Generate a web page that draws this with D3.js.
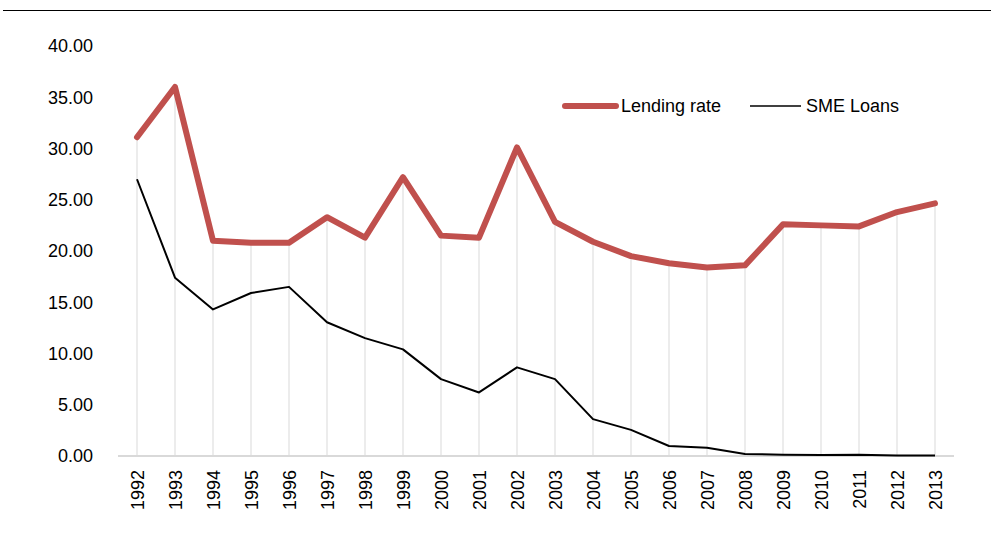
<!DOCTYPE html>
<html>
<head>
    <meta charset="utf-8">
    <style>
        body {
            margin: 0;
            background: white;
            font-family: 'Liberation Sans', Arial, sans-serif;
        }

        svg {
            display: block;
        }

        .tick-label {
            font-size: 18px;
            fill: #000;
        }

        .legend-label {
            font-size: 18px;
            fill: #000;
        }
    </style>
</head>

<body>
    <svg width="991" height="541"></svg>
</body>

<script src="https://d3js.org/d3.v7.min.js"></script>

<script>
    // values
    let years = ["1992", "1993", "1994", "1995", "1996", "1997", "1998", "1999", "2000", "2001", "2002",
        "2003", "2004", "2005", "2006", "2007", "2008", "2009", "2010", "2011", "2012", "2013"]

    let lendingRate = [31.1, 36.0, 21.0, 20.8, 20.8, 23.3, 21.3, 27.2, 21.5, 21.3, 30.1,
        22.85, 20.9, 19.5, 18.8, 18.4, 18.6, 22.6, 22.5, 22.4, 23.8, 24.65]

    let smeLoans = [27.0, 17.4, 14.3, 15.9, 16.5, 13.05, 11.5, 10.4, 7.5, 6.2, 8.65,
        7.5, 3.6, 2.55, 0.98, 0.8, 0.2, 0.12, 0.1, 0.12, 0.05, 0.05]

    let yTicks = [0, 5, 10, 15, 20, 25, 30, 35, 40]

    let svg = d3.select("svg")

    // frame line at the top
    svg.append("line")
        .attr("x1", 3)
        .attr("x2", 991)
        .attr("y1", 10.5)
        .attr("y2", 10.5)
        .style("stroke", "#000")
        .style("stroke-width", 1)

    let x = d3.scaleBand()
        .domain(years)
        .range([118, 954])

    let cx = d => x(d) + x.bandwidth() / 2

    let y = d3.scaleLinear()
        .domain([0, 40])
        .range([456, 46])

    // y labels
    svg.selectAll(".y-label")
        .data(yTicks)
        .join("text")
        .attr("class", "tick-label")
        .attr("x", 93)
        .attr("y", d => y(d))
        .attr("dy", "0.36em")
        .attr("text-anchor", "end")
        .text(d => d3.format(".2f")(d))

    // drop lines from the top series to the axis
    svg.selectAll(".drop")
        .data(years)
        .join("line")
        .attr("x1", d => cx(d))
        .attr("x2", d => cx(d))
        .attr("y1", (d, i) => y(Math.max(lendingRate[i], smeLoans[i])))
        .attr("y2", y(0))
        .style("stroke", "#d9d9d9")
        .style("stroke-width", 1)

    // x axis line
    svg.append("line")
        .attr("x1", x.range()[0])
        .attr("x2", x.range()[1])
        .attr("y1", y(0))
        .attr("y2", y(0))
        .style("stroke", "#d9d9d9")
        .style("stroke-width", 2)

    // x labels, rotated
    svg.selectAll(".x-label")
        .data(years)
        .join("text")
        .attr("class", "tick-label")
        .attr("text-anchor", "end")
        .attr("transform", d => "translate(" + (cx(d) + 6.5) + ",470) rotate(-90)")
        .text(d => d)

    let line = d3.line()
        .x((d, i) => cx(years[i]))
        .y(d => y(d))

    svg.append("path")
        .datum(smeLoans)
        .attr("d", line)
        .style("fill", "none")
        .style("stroke", "#000")
        .style("stroke-width", 2)
        .style("stroke-linejoin", "round")

    svg.append("path")
        .datum(lendingRate)
        .attr("d", line)
        .style("fill", "none")
        .style("stroke", "#c0504d")
        .style("stroke-width", 6)
        .style("stroke-linejoin", "round")
        .style("stroke-linecap", "round")

    // legend
    let legend = svg.append("g")

    legend.append("line")
        .attr("x1", 565)
        .attr("x2", 616)
        .attr("y1", 106)
        .attr("y2", 106)
        .style("stroke", "#c0504d")
        .style("stroke-width", 6)
        .style("stroke-linecap", "round")

    legend.append("text")
        .attr("class", "legend-label")
        .attr("x", 621)
        .attr("y", 106)
        .attr("dy", "0.36em")
        .text("Lending rate")

    legend.append("line")
        .attr("x1", 750)
        .attr("x2", 801)
        .attr("y1", 106)
        .attr("y2", 106)
        .style("stroke", "#000")
        .style("stroke-width", 1.5)

    legend.append("text")
        .attr("class", "legend-label")
        .attr("x", 806)
        .attr("y", 106)
        .attr("dy", "0.36em")
        .text("SME Loans")
</script>
</html>
